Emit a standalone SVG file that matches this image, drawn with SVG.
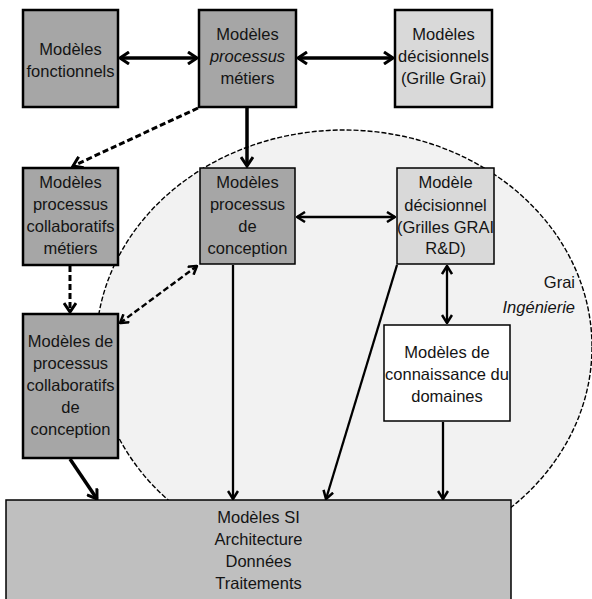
<svg xmlns="http://www.w3.org/2000/svg" width="592" height="599" viewBox="0 0 592 599">
<style>
  text { font-family: "Liberation Sans", Arial, sans-serif; font-size: 16.5px; fill: #141414; text-anchor: middle; }
  .it { font-style: italic; }
  .dark { fill: #a6a6a6; stroke: #000; stroke-width: 2.5; }
  .darkthin { fill: #a6a6a6; stroke: #000; stroke-width: 1.5; }
  .light { fill: #d9d9d9; stroke: #000; stroke-width: 2.5; }
  .lightthin { fill: #d9d9d9; stroke: #000; stroke-width: 1.5; }
  .white { fill: #ffffff; stroke: #000; stroke-width: 1.5; }
  .si { fill: #bfbfbf; stroke: #000; stroke-width: 1.5; }
  .thick { stroke: #000; stroke-width: 3.5; fill: none; }
  .thin { stroke: #000; stroke-width: 2.3; fill: none; }
  .dash { stroke: #000; stroke-width: 3; fill: none; stroke-dasharray: 6 3; }
  .dashthin { stroke: #000; stroke-width: 2.4; fill: none; stroke-dasharray: 6 3; }
</style>
<defs>
  <marker id="ah" viewBox="0 0 10 12" refX="9" refY="6" markerWidth="10" markerHeight="12" markerUnits="userSpaceOnUse" orient="auto-start-reverse">
    <path d="M1,1 L9,6 L1,11" fill="none" stroke="#000" stroke-width="2.5"/>
  </marker>
  <marker id="ahb" viewBox="0 0 12 14" refX="10" refY="7" markerWidth="12" markerHeight="14" markerUnits="userSpaceOnUse" orient="auto-start-reverse">
    <path d="M1,1 L10,7 L1,13" fill="none" stroke="#000" stroke-width="3"/>
  </marker>
</defs>
<rect width="592" height="599" fill="#ffffff"/>
<g id="zone-grai">
  <ellipse cx="344" cy="347" rx="248" ry="217" fill="#f2f2f2" stroke="#000" stroke-width="1.4" stroke-dasharray="5 2"/>
  <text x="575" y="288" style="text-anchor:end">Grai</text>
  <text x="575" y="313" class="it" style="text-anchor:end">Ingénierie</text>
</g>
<g id="connectors">
  <line x1="120" y1="58" x2="197" y2="58" class="thick" marker-start="url(#ahb)" marker-end="url(#ahb)"/>
  <line x1="298" y1="58" x2="393" y2="58" class="thick" marker-start="url(#ahb)" marker-end="url(#ahb)"/>
  <line x1="247" y1="108" x2="247" y2="166" class="thick" marker-end="url(#ahb)"/>
  <line x1="198" y1="108" x2="73" y2="166" class="dash" marker-end="url(#ahb)"/>
  <line x1="70" y1="266" x2="70" y2="312" class="dash" marker-end="url(#ahb)"/>
  <line x1="120" y1="323" x2="197" y2="266" class="dashthin" marker-start="url(#ah)" marker-end="url(#ah)"/>
  <line x1="297" y1="217" x2="395" y2="217" class="thin" marker-start="url(#ah)" marker-end="url(#ah)"/>
  <line x1="233" y1="265" x2="233" y2="499" class="thin" marker-end="url(#ah)"/>
  <line x1="397" y1="265" x2="326" y2="499" class="thin" marker-end="url(#ah)"/>
  <line x1="447" y1="266" x2="447" y2="323" class="thin" marker-start="url(#ah)" marker-end="url(#ah)"/>
  <line x1="443" y1="422" x2="443" y2="499" class="thin" marker-end="url(#ah)"/>
  <line x1="70" y1="459" x2="97" y2="499" class="thick" marker-end="url(#ahb)"/>
</g>
<g id="n-fonctionnels">
  <rect x="23" y="10" width="95" height="97" class="dark"/>
  <text x="70.5" y="55">Modèles</text>
  <text x="70.5" y="77">fonctionnels</text>
</g>
<g id="n-processus-metiers">
  <rect x="199" y="10" width="97" height="97" class="dark"/>
  <text x="247.5" y="40">Modèles</text>
  <text x="247.5" y="62" class="it">processus</text>
  <text x="247.5" y="84">métiers</text>
</g>
<g id="n-decisionnels">
  <rect x="395" y="10" width="97" height="97" class="light"/>
  <text x="443.5" y="40">Modèles</text>
  <text x="443.5" y="62">décisionnels</text>
  <text x="443.5" y="84">(Grille Grai)</text>
</g>
<g id="n-collab-metiers">
  <rect x="23" y="168" width="95" height="97" class="dark"/>
  <text x="70.5" y="188">Modèles</text>
  <text x="70.5" y="210">processus</text>
  <text x="70.5" y="232">collaboratifs</text>
  <text x="70.5" y="254">métiers</text>
</g>
<g id="n-processus-conception">
  <rect x="200" y="168" width="95" height="96" class="darkthin"/>
  <text x="247.5" y="188">Modèles</text>
  <text x="247.5" y="210">processus</text>
  <text x="247.5" y="232">de</text>
  <text x="247.5" y="254">conception</text>
</g>
<g id="n-decisionnel-rd">
  <rect x="397" y="168" width="97" height="96" class="lightthin"/>
  <text x="445.5" y="188">Modèle</text>
  <text x="445.5" y="211">décisionnel</text>
  <text x="445.5" y="233">(Grilles GRAI</text>
  <text x="445.5" y="254">R&amp;D)</text>
</g>
<g id="n-collab-conception">
  <rect x="23" y="314" width="95" height="144" class="dark"/>
  <text x="70.5" y="347">Modèles de</text>
  <text x="70.5" y="369">processus</text>
  <text x="70.5" y="391">collaboratifs</text>
  <text x="70.5" y="413">de</text>
  <text x="70.5" y="435">conception</text>
</g>
<g id="n-connaissance">
  <rect x="384" y="325" width="126" height="96" class="white"/>
  <text x="447" y="358">Modèles de</text>
  <text x="447" y="380">connaissance du</text>
  <text x="447" y="402">domaines</text>
</g>
<g id="n-si">
  <rect x="6" y="500" width="505" height="110" class="si"/>
  <text x="258.5" y="523">Modèles SI</text>
  <text x="258.5" y="545">Architecture</text>
  <text x="258.5" y="567">Données</text>
  <text x="258.5" y="589">Traitements</text>
</g>
</svg>
